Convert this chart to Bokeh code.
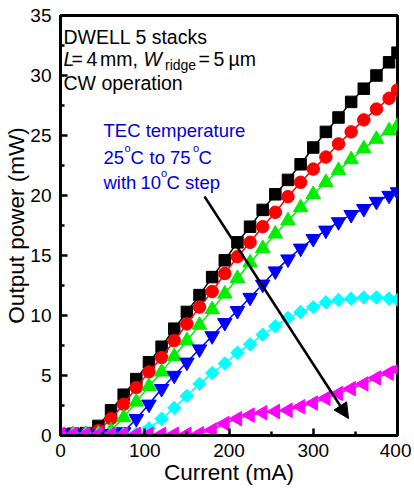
from bokeh.plotting import figure
from bokeh.models import Label, Arrow, NormalHead, FixedTicker, Range1d
from bokeh.embed import file_html
from bokeh.resources import INLINE
import numpy as np

# current (mA) and output power (mW) for each TEC temperature
current = [0, 15, 30, 45, 60, 75, 90, 105, 120, 135, 150, 165, 180, 195,
           210, 225, 240, 255, 270, 285, 300, 315, 330, 345, 360, 375, 390, 400]
p25 = [0.1, 0.15, 0.2, 0.8, 2.1, 3.4, 4.7, 6.1, 7.4, 8.9, 10.3, 11.7, 13.2, 14.6,
       16.1, 17.4, 18.8, 20.1, 21.3, 22.6, 24.0, 25.3, 26.5, 27.8, 28.9, 30.0, 31.1, 31.9]
p35 = [0.1, 0.1, 0.15, 0.4, 1.4, 2.6, 4.0, 5.3, 6.5, 7.9, 9.3, 10.7, 12.0, 13.5,
       14.9, 16.1, 17.4, 18.6, 19.9, 21.1, 22.2, 23.2, 24.3, 25.3, 26.3, 27.2, 28.1, 28.8]
p45 = [0.1, 0.1, 0.1, 0.15, 0.4, 1.5, 2.8, 4.1, 5.3, 6.6, 7.9, 9.2, 10.5, 11.8,
       13.1, 14.4, 15.6, 16.8, 17.9, 19.0, 20.1, 21.1, 22.1, 23.0, 23.9, 24.7, 25.4, 25.8]
p55 = [0.1, 0.1, 0.1, 0.1, 0.15, 0.3, 1.4, 2.6, 3.9, 5.0, 6.1, 7.2, 8.3, 9.4,
       10.4, 11.5, 12.6, 13.7, 14.7, 15.6, 16.4, 17.1, 17.8, 18.4, 18.9, 19.5, 20.0, 20.3]
p65 = [0.1, 0.1, 0.1, 0.1, 0.1, 0.1, 0.15, 0.6, 1.4, 2.3, 3.3, 4.3, 5.2, 6.0,
       6.9, 7.6, 8.4, 9.1, 9.8, 10.3, 10.7, 11.1, 11.3, 11.4, 11.5, 11.5, 11.4, 11.3]
p75 = [0.1, 0.1, 0.1, 0.1, 0.1, 0.1, 0.1, 0.1, 0.1, 0.1, 0.1, 0.15, 0.45, 1.0,
       1.4, 1.7, 1.9, 2.0, 2.1, 2.4, 2.7, 3.1, 3.5, 3.9, 4.3, 4.8, 5.2, 5.5]

x_ticks = [0, 100, 200, 300, 400]
x_minor = [50, 150, 250, 350]
y_ticks = [0, 5, 10, 15, 20, 25, 30, 35]
y_minor = [2.5, 7.5, 12.5, 17.5, 22.5, 27.5, 32.5]

FONT = "Liberation Sans"
FRAME_W, FRAME_H = 337, 420
LEFT, TOP = 60, 15  # frame corner in page pixels


def px_x(px):
    return (px - LEFT) / FRAME_W * 400


def px_y(py):
    return (TOP + FRAME_H - py) / FRAME_H * 35


p = figure(frame_width=FRAME_W, frame_height=FRAME_H,
           x_range=Range1d(0, 400), y_range=Range1d(0, 35),
           output_backend="svg", toolbar_location=None,
           min_border_left=LEFT, min_border_right=14,
           min_border_top=TOP, min_border_bottom=55)

p.xgrid.visible = False
p.ygrid.visible = False
p.outline_line_color = "black"
p.outline_line_width = 3
p.outline_line_alpha = 1

p.xaxis.ticker = FixedTicker(ticks=x_ticks, minor_ticks=x_minor)
p.yaxis.ticker = FixedTicker(ticks=y_ticks, minor_ticks=y_minor)
for ax in (p.xaxis[0], p.yaxis[0]):
    ax.axis_line_width = 3
    ax.axis_line_color = "black"
    ax.major_tick_in = 7
    ax.major_tick_out = 0
    ax.minor_tick_in = 4
    ax.minor_tick_out = 0
    ax.major_tick_line_width = 2.5
    ax.minor_tick_line_width = 2.5
    ax.major_label_text_font = FONT
    ax.major_label_text_font_size = "19px"
    ax.major_label_text_color = "black"
    ax.axis_label_text_font = FONT
    ax.axis_label_text_font_size = "22.5px"
    ax.axis_label_text_font_style = "normal"
    ax.axis_label_text_color = "black"

p.xaxis.axis_label = "Current (mA)"
p.yaxis.axis_label = "Output power (mW)"
p.xaxis.major_label_standoff = 8
p.yaxis.major_label_standoff = 9
p.xaxis.axis_label_standoff = 0
p.yaxis.axis_label_standoff = -2

series = [
    (p25, "black", "square", 11.5, 0),
    (p35, "red", "circle", 12.5, 0),
    (p45, "#00ee00", "triangle", 14.5, 0),
    (p55, "#0000ff", "inverted_triangle", 14.5, 0),
    (p65, "cyan", "square", 9.5, np.pi / 4),
    (p75, "magenta", "triangle", 14.5, np.pi / 2),
]
for ys, col, marker, size, ang in series:
    p.line(current, ys, line_color=col, line_width=1.5)
    p.scatter(current, ys, marker=marker, size=size, angle=ang,
              fill_color=col, line_color=col)

p.add_layout(Arrow(end=NormalHead(size=15, fill_color="black", line_color="black"),
                   x_start=px_x(204), y_start=px_y(196),
                   x_end=px_x(348), y_end=px_y(418),
                   line_width=2.5, line_color="black"))


def put(text, px, py, size, color="black", style="normal"):
    p.add_layout(Label(x=px_x(px), y=px_y(py), text=text, text_font=FONT,
                       text_font_size=size, text_color=color,
                       text_font_style=style, text_baseline="alphabetic",
                       text_align="left"))


put("DWELL 5 stacks", 63, 36, "19.5px")
put("L", 63, 58, "19.5px", style="italic")
put("=", 71, 58, "19.5px")
put("4", 86, 58, "19.5px")
put("mm,", 99.5, 58, "19.5px")
put("W", 143, 58, "19.5px", style="italic")
put("ridge", 164.5, 64, "14px")
put("=", 198, 58, "19.5px")
put("5", 213, 58, "19.5px")
put("µm", 228, 58, "19.5px")
put("CW operation", 63, 82, "19.5px")

BLUE = "#0000dd"
put("TEC temperature", 103, 130, "18.5px", BLUE)
put("25", 103, 157, "18.5px", BLUE)
put("o", 124, 147, "11px", BLUE)
put("C", 130, 157, "18.5px", BLUE)
put("to 75", 149, 157, "18.5px", BLUE)
put("o", 192.5, 147, "11px", BLUE)
put("C", 198, 157, "18.5px", BLUE)
put("with", 103, 182, "18.5px", BLUE)
put("10", 140, 182, "18.5px", BLUE)
put("o", 160.5, 172, "11px", BLUE)
put("C step", 166, 182, "18.5px", BLUE)

open("out.html", "w").write(file_html(p, INLINE))
